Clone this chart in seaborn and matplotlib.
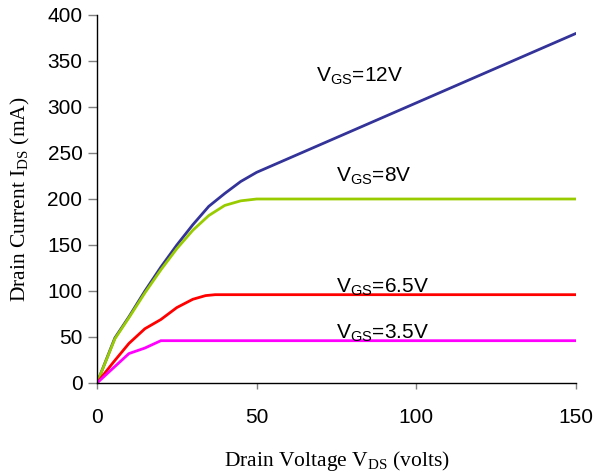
import matplotlib
matplotlib.use("Agg")
import matplotlib.pyplot as plt
import seaborn as sns
import pandas as pd

# Data
vds_12 = [0, 5.6, 10, 15, 20, 25, 30, 35, 40, 45, 50, 150]
ids_12 = [0, 49, 72, 100, 126, 150, 172, 192, 206, 219, 229, 380]
vds_8 = [0, 5.6, 10, 15, 20, 25, 30, 35, 40, 45, 50, 150]
ids_8 = [0, 48, 71, 98, 123, 146, 166, 182, 193, 198, 200, 200]
vds_65 = [0, 5, 10, 15, 20, 25, 30, 34, 37, 40, 150]
ids_65 = [0, 22, 43, 59, 69, 82, 91, 95, 96, 96, 96]
vds_35 = [0, 5, 10, 15, 20, 150]
ids_35 = [0, 16, 32, 38, 46, 46]
series_names = ["VGS=12V", "VGS=8V", "VGS=6.5V", "VGS=3.5V"]
colors = ["#333399", "#99CC00", "#FF0000", "#FF00FF"]
labels = [r"V$_{\mathsf{GS}}$=12V", r"V$_{\mathsf{GS}}$=8V",
          r"V$_{\mathsf{GS}}$=6.5V", r"V$_{\mathsf{GS}}$=3.5V"]
label_pos = [(68.5, 327.5), (75, 219), (75, 98), (75, 48.5)]
x_ticks = [0, 50, 100, 150]
y_ticks = [0, 50, 100, 150, 200, 250, 300, 350, 400]

frames = []
for name, xs, ys in zip(series_names, [vds_12, vds_8, vds_65, vds_35],
                        [ids_12, ids_8, ids_65, ids_35]):
    frames.append(pd.DataFrame({"VDS": xs, "IDS": ys, "series": name}))
df = pd.concat(frames, ignore_index=True)

sns.set_style("white")
plt.rcParams["font.family"] = ["Liberation Sans", "DejaVu Sans"]
plt.rcParams["mathtext.fontset"] = "custom"
plt.rcParams["mathtext.rm"] = "Liberation Serif"
plt.rcParams["mathtext.sf"] = "Liberation Sans"
plt.rcParams["text.color"] = "black"
plt.rcParams["axes.labelcolor"] = "black"

fig = plt.figure(figsize=(5.97, 4.74), dpi=100)
ax = fig.add_axes([97 / 597, 1 - 383 / 474, (576 - 97) / 597, (383 - 15) / 474])

sns.lineplot(data=df, x="VDS", y="IDS", hue="series", palette=colors,
             hue_order=series_names, linewidth=2, legend=False, ax=ax,
             sort=False, estimator=None)

ax.set_xlim(0, 150)
ax.set_ylim(0, 400)
ax.set_xticks(x_ticks)
ax.set_yticks(y_ticks)
ax.tick_params(axis="both", direction="out", width=1, color="#808080",
               labelcolor="black", labelsize=15, bottom=True, left=True)
ax.tick_params(axis="x", length=4, pad=14)
ax.tick_params(axis="y", length=6.5, pad=4)
for s in ["top", "right"]:
    ax.spines[s].set_visible(False)
for s in ["left", "bottom"]:
    ax.spines[s].set_color("black")
    ax.spines[s].set_linewidth(1)

ax.set_xlabel(r"Drain Voltage V$_{\mathrm{DS}}$ (volts)", family="Liberation Serif",
              fontsize=15.5, labelpad=16, color="black")
ax.set_ylabel(r"Drain Current I$_{\mathrm{DS}}$ (mA)", family="Liberation Serif",
              fontsize=15.5, labelpad=11, color="black")

for lab, (x, y) in zip(labels, label_pos):
    ax.text(x, y, lab, fontsize=15, ha="left", va="baseline", color="black")

fig.savefig("out.png", dpi=100)
